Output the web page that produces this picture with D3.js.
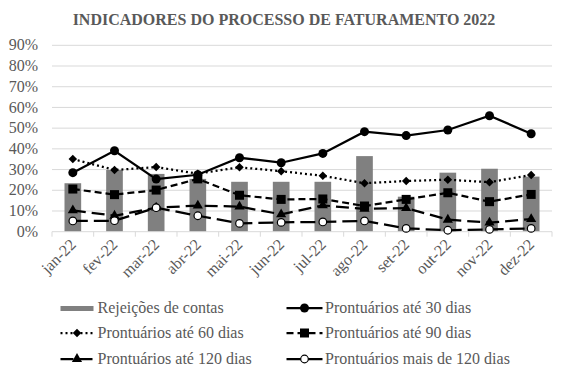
<!DOCTYPE html>
<html><head><meta charset="utf-8">
<script src="https://cdn.jsdelivr.net/npm/d3@7"></script>
<style>body{margin:0;background:#fff;}svg{display:block;}svg text{font-family:"Liberation Serif","Times New Roman",Times,serif;}</style>
</head><body>
<svg id="c" width="566" height="378"></svg>
<script>
const months = ["jan-22","fev-22","mar-22","abr-22","mai-22","jun-22","jul-22","ago-22","set-22","out-22","nov-22","dez-22"];
const yTicks = [0,0.1,0.2,0.3,0.4,0.5,0.6,0.7,0.8,0.9];
const rejeicoes = [0.234,0.298,0.279,0.255,0.241,0.241,0.241,0.365,0.169,0.285,0.304,0.266];
const ate30 = [0.285,0.391,0.254,0.275,0.357,0.333,0.378,0.483,0.464,0.491,0.560,0.473];
const ate60 = [0.351,0.298,0.312,0.280,0.311,0.292,0.270,0.234,0.245,0.251,0.239,0.274];
const ate90 = [0.206,0.179,0.201,0.255,0.176,0.156,0.158,0.124,0.156,0.188,0.145,0.180];
const ate120 = [0.103,0.077,0.116,0.126,0.121,0.084,0.127,0.110,0.114,0.058,0.044,0.061];
const mais120 = [0.052,0.053,0.116,0.077,0.040,0.045,0.047,0.052,0.016,0.007,0.011,0.016];
const seriesNames = ["Rejeições de contas","Prontuários até 30 dias","Prontuários até 60 dias","Prontuários até 90 dias","Prontuários até 120 dias","Prontuários mais de 120 dias"];

const svg = d3.select("#c");
const grey = "#595959";
const x = d3.scaleBand().domain(months).range([52,552]).padding(0);
const y = d3.scaleLinear().domain([0,0.9]).range([231.7,45.3]);

svg.append("text").attr("x",284).attr("y",24.5).attr("text-anchor","middle")
  .attr("font-weight","bold").attr("font-size",16)
  .attr("fill",grey).text("INDICADORES DO PROCESSO DE FATURAMENTO 2022");

// gridlines
svg.append("g").selectAll("line").data(yTicks.slice(1)).join("line")
  .attr("x1",52).attr("x2",552).attr("y1",d=>y(d)).attr("y2",d=>y(d))
  .attr("stroke","#d9d9d9").attr("stroke-width",1);

// y labels
svg.append("g").selectAll("text").data(yTicks).join("text")
  .attr("x",38).attr("y",d=>y(d)).attr("dy","0.32em").attr("text-anchor","end")
  .attr("font-size",16).attr("fill",grey)
  .text(d=>d3.format(".0%")(d));

// bars
svg.append("g").selectAll("rect").data(rejeicoes).join("rect")
  .attr("x",(d,i)=>x(months[i])+x.bandwidth()*0.3)
  .attr("width",x.bandwidth()*0.4)
  .attr("y",d=>y(d)).attr("height",d=>y(0)-y(d))
  .attr("fill","#808080");

// x axis
const ax = svg.append("g");
ax.append("line").attr("x1",52).attr("x2",552).attr("y1",y(0)).attr("y2",y(0)).attr("stroke","#d9d9d9");
ax.selectAll("line.t").data(d3.range(months.length+1)).join("line").attr("class","t")
  .attr("x1",i=>52+i*x.bandwidth()).attr("x2",i=>52+i*x.bandwidth())
  .attr("y1",y(0)).attr("y2",y(0)+5).attr("stroke","#d9d9d9");
ax.selectAll("text").data(months).join("text")
  .attr("transform",d=>`translate(${x(d)+x.bandwidth()/2+4},${y(0)+14}) rotate(-45)`)
  .attr("text-anchor","end").attr("font-size",16).attr("fill",grey)
  .text(d=>d);

// line series
const lineSeries = [
  {data:ate30, dash:null, marker:"circle"},
  {data:ate60, dash:"2,3", marker:"diamond"},
  {data:ate90, dash:"7,4", marker:"square"},
  {data:ate120, dash:"13,6", marker:"triangle"},
  {data:mais120, dash:"15,6", marker:"ocircle"}
];
const cx = i => x(months[i]) + x.bandwidth()/2;
const lineGen = d3.line().x((d,i)=>cx(i)).y(d=>y(d));
function drawMarker(g, type, px, py){
  if(type==="circle") g.append("circle").attr("cx",px).attr("cy",py).attr("r",4.5).attr("fill","#000");
  else if(type==="diamond") g.append("path").attr("d",d3.symbol(d3.symbolSquare,36)()).attr("transform",`translate(${px},${py}) rotate(45)`).attr("fill","#000");
  else if(type==="square") g.append("rect").attr("x",px-4.5).attr("y",py-4.5).attr("width",9).attr("height",9).attr("fill","#000");
  else if(type==="triangle") g.append("path").attr("d",d3.symbol(d3.symbolTriangle,45)()).attr("transform",`translate(${px},${py})`).attr("fill","#000");
  else if(type==="ocircle") g.append("circle").attr("cx",px).attr("cy",py).attr("r",3.8).attr("fill","#fff").attr("stroke","#000").attr("stroke-width",1.2);
}
lineSeries.forEach(s=>{
  const g = svg.append("g");
  g.append("path").attr("d",lineGen(s.data)).attr("fill","none").attr("stroke","#000")
    .attr("stroke-width",2.25).attr("stroke-dasharray",s.dash);
  s.data.forEach((v,i)=>drawMarker(g,s.marker,cx(i),y(v)));
});

// legend
const leg = svg.append("g");
const rows=[308,333,359], cols=[{x0:60.5,x1:93.5,tx:97.5},{x0:286.5,x1:322.5,tx:325}];
const legItems = [
  {name:seriesNames[0], bar:true},
  {name:seriesNames[1], s:lineSeries[0]},
  {name:seriesNames[2], s:lineSeries[1]},
  {name:seriesNames[3], s:lineSeries[2]},
  {name:seriesNames[4], s:lineSeries[3]},
  {name:seriesNames[5], s:lineSeries[4]}
];
legItems.forEach((it,k)=>{
  const r=rows[Math.floor(k/2)], c=cols[k%2];
  if(it.bar){
    leg.append("rect").attr("x",c.x0).attr("y",r-2).attr("width",c.x1-c.x0).attr("height",5).attr("fill","#808080");
  } else {
    leg.append("line").attr("x1",c.x0).attr("x2",c.x1).attr("y1",r).attr("y2",r)
      .attr("stroke","#000").attr("stroke-width",2.25).attr("stroke-dasharray",it.s.dash);
    drawMarker(leg,it.s.marker,(c.x0+c.x1)/2,r);
  }
  leg.append("text").attr("x",c.tx).attr("y",r+5).attr("font-size",16)
    .attr("fill",grey).text(it.name);
});
</script>
</body></html>
